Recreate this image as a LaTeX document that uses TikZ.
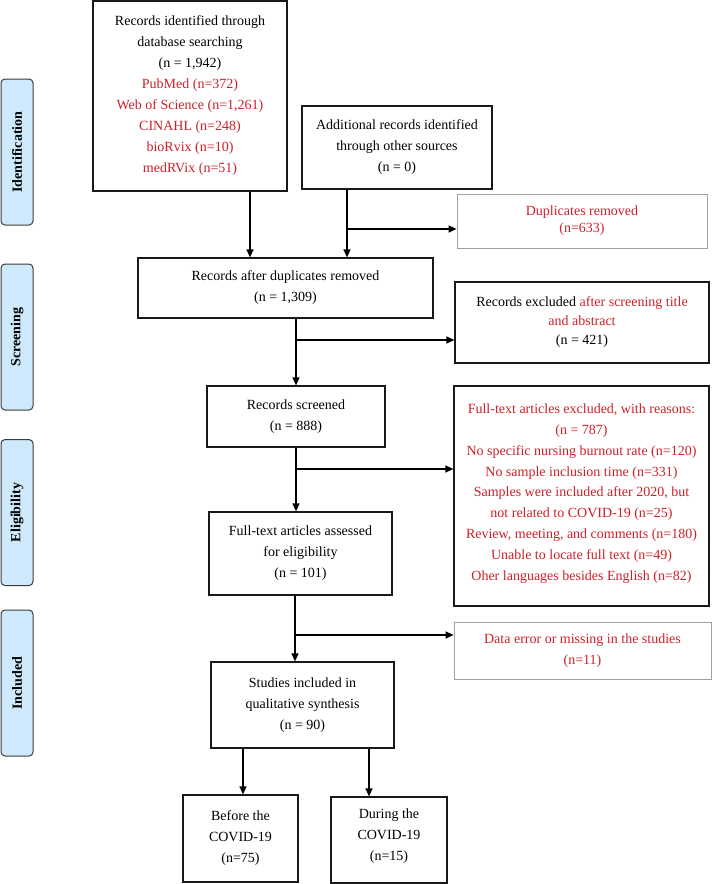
\documentclass[tikz,border=0pt]{standalone}
\usepackage{fontspec}
\setmainfont{Liberation Serif}
\usetikzlibrary{arrows.meta}
\definecolor{redtxt}{RGB}{205,32,40}
\definecolor{sidefill}{RGB}{206,233,251}
\definecolor{sideedge}{RGB}{60,60,60}
\definecolor{grayedge}{RGB}{160,160,160}
\newcommand{\rd}[1]{\textcolor{redtxt}{#1}}
\begin{document}
\begin{tikzpicture}[x=1pt,y=-1pt,
 box/.style={draw=black!90, line width=1.2pt, inner sep=0pt, align=center, font=\fontsize{14}{21}\selectfont},
 gbox/.style={box, draw=grayedge, line width=0.8pt},
 side/.style={draw=sideedge, fill=sidefill, rounded corners=4pt, line width=1pt, inner sep=0pt, font=\fontsize{14}{16}\selectfont\bfseries, rotate=90, minimum width=146pt, minimum height=32pt},
 arr/.style={line width=1.3pt, -{Triangle[length=8pt,width=7pt]}}]
\useasboundingbox (0,0) rectangle (712,884);

% side labels
\node[side] (sid) at (17,152) {Identification};
\node[side] (sscr) at (17,337) {Screening};
\node[side] (self) at (17,512.5) {Eligibility};
\node[side] (sinc) at (17,683) {Included};

% boxes
\node[box, minimum width=194pt, minimum height=190pt] (b1) at (190,96)
 {Records identified through\\database searching\\(n = 1,942)\\\rd{PubMed (n=372)}\\\rd{Web of Science (n=1,261)}\\\rd{CINAHL (n=248)}\\\rd{bioRvix (n=10)}\\\rd{medRVix (n=51)}};
\node[box, minimum width=190pt, minimum height=83pt] (b2) at (397,147.5)
 {Additional records identified\\through other sources\\(n = 0)};
\node[gbox, minimum width=250pt, minimum height=54pt, font=\fontsize{14}{17}\selectfont] (dup) at (582,221)
 {\rd{Duplicates removed}\\\rd{(n=633)}};
\node[box, minimum width=295pt, minimum height=60pt] (b3) at (285.5,288)
 {Records after duplicates removed\\(n = 1,309)};
\node[box, minimum width=254pt, minimum height=81pt, font=\fontsize{14}{19}\selectfont] (excl) at (582,322.5)
 {Records excluded \rd{after screening title}\\\rd{and abstract}\\(n = 421)};
\node[box, minimum width=178pt, minimum height=61pt] (sc) at (296,416.5)
 {Records screened\\(n = 888)};
\node[box, minimum width=255pt, minimum height=220pt, font=\fontsize{14}{20.8}\selectfont] (ft) at (581.5,496)
 {\rd{Full-text articles excluded, with reasons:}\\\rd{(n = 787)}\\\rd{No specific nursing burnout rate (n=120)}\\\rd{No sample inclusion time (n=331)}\\\rd{Samples were included after 2020, but}\\\rd{not related to COVID-19 (n=25)}\\\rd{Review, meeting, and comments (n=180)}\\\rd{Unable to locate full text (n=49)}\\\rd{Oher languages besides English (n=82)}\\[-13pt]};
\node[box, minimum width=183pt, minimum height=83pt] (as) at (300.5,553.5)
 {Full-text articles assessed\\for eligibility\\(n = 101)};
\node[gbox, minimum width=257pt, minimum height=57pt] (de) at (582.5,650.5)
 {\rd{Data error or missing in the studies}\\\rd{(n=11)}};
\node[box, minimum width=183pt, minimum height=86pt] (st) at (302.5,705)
 {Studies included in\\qualitative synthesis\\(n = 90)};
\node[box, minimum width=115pt, minimum height=87pt] (bf) at (240.5,838.5)
 {Before the\\COVID-19\\(n=75)};
\node[box, minimum width=116pt, minimum height=86pt] (du) at (389,840)
 {During the\\COVID-19\\(n=15)\\[-11pt]};

% connectors
\coordinate (a1) at (250,0);
\coordinate (a2) at (347,0);
\coordinate (a3) at (295,0);
\coordinate (a4) at (243,0);
\coordinate (a5) at (369,0);
\coordinate (j1) at (347,229);
\coordinate (j2) at (296,340);
\coordinate (j3) at (296,469);
\coordinate (j4) at (295,635);

\draw[arr] (b1.south -| a1) -- (b3.north -| a1);
\draw[arr] (b2.south -| a2) -- (b3.north -| a2);
\draw[arr] (j1) -- (dup.west |- j1);
\draw[arr] (b3.south -| sc.north) -- (sc.north);
\draw[arr] (j2) -- (excl.west |- j2);
\draw[arr] (sc.south) -- (as.north -| sc.south);
\draw[arr] (j3) -- (ft.west |- j3);
\draw[arr] (as.south -| a3) -- (st.north -| a3);
\draw[arr] (j4) -- (de.west |- j4);
\draw[arr] (st.south -| a4) -- (bf.north -| a4);
\draw[arr] (st.south -| a5) -- (du.north -| a5);
\end{tikzpicture}
\end{document}
